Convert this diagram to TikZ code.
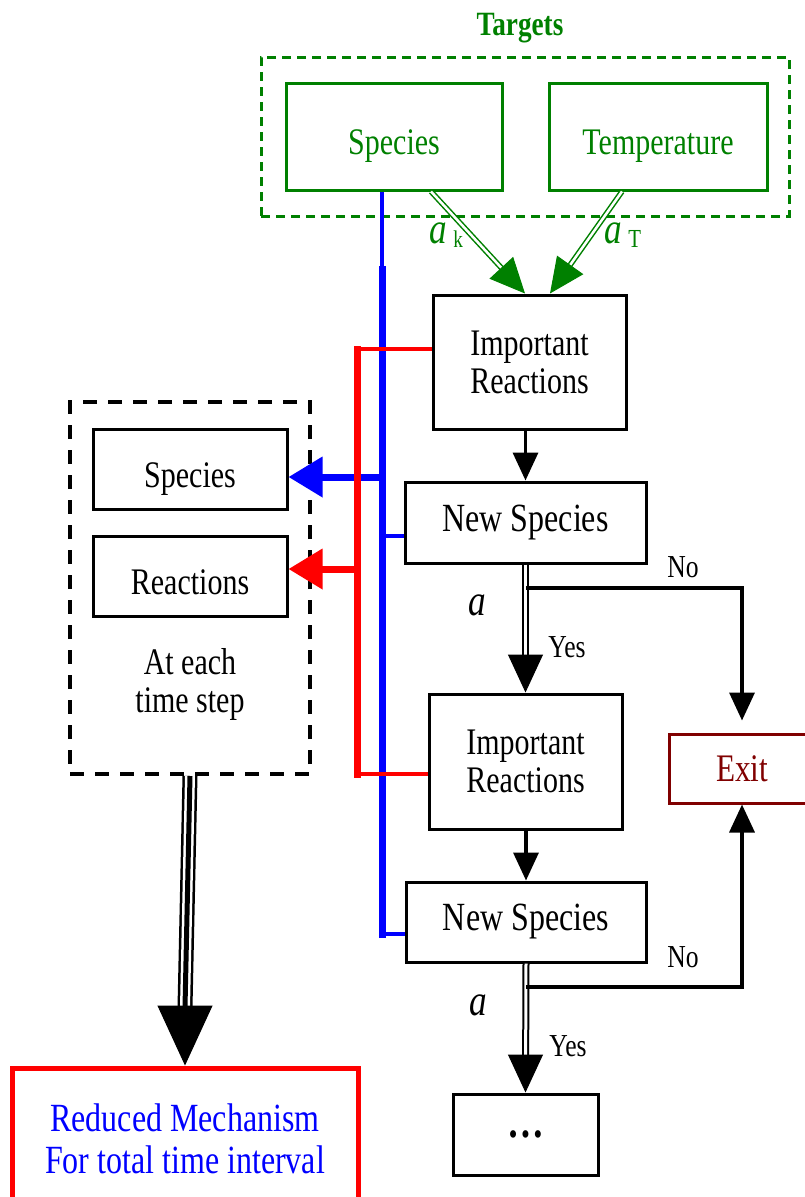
\documentclass[tikz,border=0pt]{standalone}
\usepackage{fontspec}
\setmainfont{Liberation Serif}[FakeStretch=0.8]
\usepackage{tikz}
\usetikzlibrary{arrows.meta, calc}

\definecolor{tgreen}{RGB}{0,128,0}
\definecolor{exitred}{RGB}{128,0,0}

\begin{document}
\begin{tikzpicture}[
    x=1pt, y=-1pt,
    box/.style={rectangle, draw, line width=3pt, inner sep=0pt, align=center, font=\fontsize{37.5}{38}\selectfont},
    target/.style={box, draw=tgreen, text=tgreen, minimum height=107pt, text height=44pt, text depth=8pt},
    newsp/.style={box, font=\fontsize{40}{40}\selectfont, minimum width=241pt, minimum height=81pt},
    impreac/.style={box, minimum width=193pt, minimum height=134pt},
    sidebox/.style={box, minimum width=194pt, minimum height=80pt, text height=44pt, text depth=8pt},
    tframe/.style={draw=tgreen, line width=3pt, dash pattern=on 9pt off 6pt, inner sep=0pt},
    stepframe/.style={draw, line width=4pt, dash pattern=on 14pt off 11pt, inner sep=0pt},
    lbl/.style={inner sep=0pt, font=\fontsize{32}{32}\selectfont},
    alabel/.style={inner sep=0pt, font=\fontsize{44}{44}\selectfont\itshape},
    arr/.style={line width=3.5pt, -{Triangle[length=28pt, width=25pt]}},
    dbl/.style={draw=black, line width=2pt, double=white, double distance=3pt},
    bigtip/.style={line width=1pt, -{Triangle[length=38pt, width=35pt]}},
    gdbl/.style={draw=tgreen, line width=1.5pt, double=white, double distance=2.5pt},
    gtip/.style={tgreen, line width=1pt, -{Triangle[length=35pt, width=32pt]}},
    bluethin/.style={blue, line width=3.5pt},
    bluethick/.style={blue, line width=7pt, line cap=rect},
    redthin/.style={red, line width=4.5pt},
    redthick/.style={red, line width=7pt, line cap=rect},
    sidearr/.style={line width=7pt, -{Triangle[length=34pt, width=39pt]}}
]
\useasboundingbox (0,0) rectangle (804,1197);

% Targets
\node[target, minimum width=216pt] (tsp) at (394,136.5) {Species};
\node[target, minimum width=218pt] (ttemp) at (658,136.5) {Temperature};
\node[tframe, minimum width=528pt, minimum height=159pt] (tbox) at (525,136.5) {};
\node[font=\bfseries\fontsize{34}{34}\selectfont, text=tgreen] (ttl) at (520,28) {Targets};

% Main column
\node[impreac] (ir1) at (529.5,362) {Important\\Reactions};
\node[newsp] (ns1) at (525.5,522.5) {New Species};
\node[impreac, minimum height=135pt] (ir2) at (525.5,761.5) {Important\\Reactions};
\node[newsp, minimum width=240pt, minimum height=80pt] (ns2) at (526,922) {New Species};
\node[box, minimum width=145pt, minimum height=81pt, font=\bfseries\fontsize{46}{46}\selectfont] (more) at (525.5,1134.5) {…};
\node[box, draw=exitred, text=exitred, minimum width=146pt, minimum height=69pt, font=\fontsize{39}{39}\selectfont] (exit) at (742,768.5) {Exit};

% Left side
\node[sidebox] (lsp) at (190,469) {Species};
\node[sidebox] (lre) at (190,576) {Reactions};
\node[stepframe, minimum width=240pt, minimum height=372pt] (tstep) at (190,588) {};
\node[align=center, font=\fontsize{37.5}{38}\selectfont] (tsteplbl) at (190,684) {At each\\time step};
\node[box, draw=red, line width=5pt, text=blue, font=\fontsize{40}{42}\selectfont, minimum width=346pt, minimum height=142pt] (redmech) at (185,1139) {Reduced Mechanism\\For total time interval};

% Green weights
\coordinate (gk) at ([xshift=37pt]tsp.south);
\coordinate (gkend) at ([xshift=-4.5pt]ir1.north);
\coordinate (gt) at ([xshift=-36pt]ttemp.south);
\coordinate (gtend) at ([xshift=20.5pt]ir1.north);
\draw[gdbl, shorten >=32pt] (gk) -- (gkend);
\draw[gtip] ($(gkend)!35pt!(gk)$) -- (gkend);
\draw[gdbl, shorten >=32pt] (gt) -- (gtend);
\draw[gtip] ($(gtend)!35pt!(gt)$) -- (gtend);
\node[alabel, text=tgreen, anchor=base west] (ak) at (429.5,243) {a\hspace{6pt}\raisebox{-4pt}{\upshape\fontsize{24}{24}\selectfont k}};
\node[alabel, text=tgreen, anchor=base west] (at) at (604.5,243) {a\hspace{6pt}\raisebox{-4pt}{\upshape\fontsize{26}{26}\selectfont T}};

% Blue species bus
\coordinate (bt) at (382,269);
\coordinate (bb) at (382,934);
\coordinate (b1) at (382,536);
\coordinate (b2) at (382,477);
\draw[bluethin] ([xshift=-12pt]tsp.south) -- (bt);
\draw[bluethick] (bt) -- (bb);
\draw[bluethin] (b1) -- (b1 -| ns1.west);
\draw[bluethin] (bb) -- (bb -| ns2.west);
\draw[sidearr, blue] (b2) -- (b2 -| lsp.east);

% Red reactions bus
\coordinate (rt) at (357,349);
\coordinate (rb) at (357,774);
\coordinate (r1) at (357,569);
\draw[redthin] (rt -| ir1.west) -- (rt);
\draw[redthick] (rt) -- (rb);
\draw[redthin] (rb) -- (rb -| ir2.west);
\draw[sidearr, red] (r1) -- (r1 -| lre.east);

% Flow
\draw[arr] (ir1.south -| ns1.north) -- (ns1.north);
\draw[arr] (ir2.south -| ns2.north) -- (ns2.north);
\draw[dbl, shorten >=36pt] (ns1.south) -- (ir2.north);
\draw[bigtip] ([yshift=38pt]ir2.north) -- (ir2.north);
\draw[dbl, shorten >=36pt] (ns2.south) -- (more.north);
\draw[bigtip] ([yshift=38pt]more.north) -- (more.north);
\coordinate (n1) at (526,588);
\coordinate (n2) at (526,987);
\draw[arr] (n1) -| ([yshift=12pt]exit.north);
\draw[arr] (n2) -| (exit.south);
\node[lbl] (no1) at (683,567) {No};
\node[lbl] (no2) at (683,957) {No};
\node[lbl] (yes1) at (567,647) {Yes};
\node[lbl] (yes2) at (568,1046) {Yes};
\node[alabel] (a1) at (477,605) {a};
\node[alabel] (a2) at (478,1005) {a};

% Collect
\coordinate (tripend) at ([yshift=58pt]redmech.north);
\draw[line width=15pt] (tstep.south) -- (tripend);
\draw[white, line width=10pt] (tstep.south) -- (tripend);
\draw[line width=5pt] (tstep.south) -- (tripend);
\draw[line width=1pt, -{Triangle[length=60pt, width=55pt]}] ([yshift=60pt]redmech.north) -- (redmech.north);

\end{tikzpicture}
\end{document}
